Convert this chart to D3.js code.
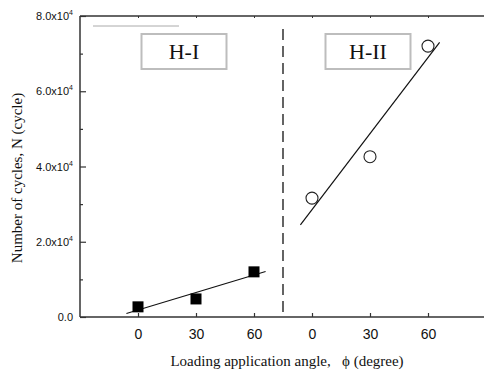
<!DOCTYPE html>
<html>
<head>
<meta charset="utf-8">
<script src="https://cdn.jsdelivr.net/npm/d3@7"></script>
<style>
  html, body { margin: 0; padding: 0; background: #fff; }
  svg { display: block; }
</style>
</head>
<body>
<svg id="chart" width="484" height="374"></svg>
<script>
// Loading application angle (degree) for each specimen group
const angles = [0, 30, 60];
const groups = ["H-I", "H-II"];
// Number of cycles N for each group
const cyclesHI = [2700, 4800, 12000];
const cyclesHII = [31600, 42600, 72000];
// Axis ticks
const yMajorTicks = [0, 20000, 40000, 60000, 80000];
const yMinorTicks = [10000, 30000, 50000, 70000];

(function () {
  const svg = d3.select("#chart");
  const W = 484;
  const padL = 80, padT = 16, padB = 317, padR = 486;

  // Each group occupies three slots (0°, 30°, 60°); slot index = group*3 + angle/30
  const x = d3.scaleLinear().domain([-1, 6]).range([padL, padR]);
  const y = d3.scaleLinear().domain([0, 80000]).range([padB, padT]);
  const slot = (g, a) => g * 3 + a / 30;

  const axisColor = "#333";

  // Frame lines
  svg.append("line").attr("x1", padL).attr("x2", padL).attr("y1", padT).attr("y2", padB)
    .attr("stroke", axisColor).attr("stroke-width", 1.5);
  svg.append("line").attr("x1", padL).attr("x2", W).attr("y1", padB).attr("y2", padB)
    .attr("stroke", axisColor).attr("stroke-width", 1.5);
  svg.append("line").attr("x1", padL).attr("x2", W).attr("y1", padT).attr("y2", padT)
    .attr("stroke", axisColor).attr("stroke-width", 1.5);

  // Y axis (ticks pointing inward)
  const yAxis = d3.axisLeft(y).tickValues(yMajorTicks).tickSizeInner(-6).tickSizeOuter(0)
    .tickFormat(() => "");
  const gy = svg.append("g").attr("transform", `translate(${padL},0)`).call(yAxis);
  gy.select(".domain").remove();
  gy.selectAll(".tick line").attr("stroke", axisColor).attr("stroke-width", 1.2);

  // Tick labels like 8.0x10^4
  const yLabels = svg.append("g").attr("font-family", "Liberation Sans, Arial, sans-serif")
    .attr("font-size", 11).attr("fill", "#111");
  yMajorTicks.forEach(v => {
    const t = yLabels.append("text").attr("x", 73).attr("y", y(v) + 4).attr("text-anchor", "end");
    if (v === 0) {
      t.text("0.0");
    } else {
      const mant = (v / 10000).toFixed(1);
      t.append("tspan").text(mant + "x10");
      t.append("tspan").attr("font-size", 7).attr("dy", -5).text("4");
    }
  });

  const gyMinor = svg.append("g").attr("transform", `translate(${padL},0)`)
    .call(d3.axisLeft(y).tickValues(yMinorTicks).tickSizeInner(-3).tickSizeOuter(0).tickFormat(() => ""));
  gyMinor.select(".domain").remove();
  gyMinor.selectAll(".tick line").attr("stroke", axisColor).attr("stroke-width", 1.2);

  // X axis: bottom with labels, top with small ticks
  const slots = [];
  groups.forEach((g, gi) => angles.forEach(a => slots.push({ s: slot(gi, a), a })));
  const xAxis = d3.axisBottom(x).tickValues(slots.map(d => d.s)).tickSizeInner(-4).tickSizeOuter(0)
    .tickPadding(12).tickFormat((d, i) => slots[i].a);
  const gx = svg.append("g").attr("transform", `translate(0,${padB})`).call(xAxis);
  gx.select(".domain").remove();
  gx.selectAll(".tick line").attr("stroke", axisColor).attr("stroke-width", 1.2);
  gx.selectAll(".tick text").attr("font-family", "Liberation Sans, Arial, sans-serif")
    .attr("font-size", 14).attr("fill", "#111");

  const gxTop = svg.append("g").attr("transform", `translate(0,${padT})`)
    .call(d3.axisTop(x).tickValues(slots.map(d => d.s)).tickSizeInner(-2).tickSizeOuter(0).tickFormat(() => ""));
  gxTop.select(".domain").remove();
  gxTop.selectAll(".tick line").attr("stroke", axisColor).attr("stroke-width", 1);

  // Axis titles
  svg.append("text").attr("x", 287).attr("y", 366).attr("text-anchor", "middle")
    .attr("font-family", "Liberation Serif, Times New Roman, serif").attr("font-size", 15).attr("fill", "#111")
    .attr("xml:space", "preserve")
    .text("Loading application angle,   \u03D5 (degree)");
  svg.append("text").attr("transform", "translate(22,178) rotate(-90)").attr("text-anchor", "middle")
    .attr("font-family", "Liberation Serif, Times New Roman, serif").attr("font-size", 15).attr("fill", "#111")
    .text("Number of cycles, N (cycle)");

  // Divider between groups
  svg.append("line").attr("x1", x(2.5)).attr("x2", x(2.5)).attr("y1", 29).attr("y2", 312)
    .attr("stroke", "#111").attr("stroke-width", 1.3).attr("stroke-dasharray", "11,6");

  // Short grey line near the top-left
  svg.append("line").attr("x1", 93).attr("x2", 179).attr("y1", 26).attr("y2", 26)
    .attr("stroke", "#aaa").attr("stroke-width", 1);

  // Group label boxes
  const boxes = [{ label: groups[0], cx: x(1) - 12 }, { label: groups[1], cx: x(4) - 2 }];
  boxes.forEach(b => {
    svg.append("rect").attr("x", b.cx - 42.5).attr("y", 34).attr("width", 85).attr("height", 35)
      .attr("fill", "#fff").attr("stroke", "#bdbdbd").attr("stroke-width", 2);
    svg.append("text").attr("x", b.cx).attr("y", 59).attr("text-anchor", "middle")
      .attr("font-family", "Liberation Serif, Times New Roman, serif").attr("font-size", 22).attr("fill", "#111")
      .text(b.label);
  });

  // Least-squares fit lines for each group, drawn from -6° to 66°
  function fit(vals) {
    const mx = d3.mean(angles), my = d3.mean(vals);
    const sxy = d3.sum(angles.map((a, i) => (a - mx) * (vals[i] - my)));
    const sxx = d3.sum(angles.map(a => (a - mx) ** 2));
    const b = sxy / sxx;
    return { b, a: my - b * mx };
  }
  [cyclesHI, cyclesHII].forEach((vals, gi) => {
    const f = fit(vals);
    const a0 = -6, a1 = 66;
    svg.append("line")
      .attr("x1", x(slot(gi, a0))).attr("y1", y(f.a + f.b * a0))
      .attr("x2", x(slot(gi, a1))).attr("y2", y(f.a + f.b * a1))
      .attr("stroke", "#111").attr("stroke-width", 1.2);
  });

  // H-I: filled squares
  svg.append("g").selectAll("rect").data(cyclesHI).join("rect")
    .attr("x", (d, i) => x(slot(0, angles[i])) - 5.5)
    .attr("y", d => y(d) - 5.5)
    .attr("width", 11).attr("height", 11).attr("fill", "#000");

  // H-II: open circles
  svg.append("g").selectAll("circle").data(cyclesHII).join("circle")
    .attr("cx", (d, i) => x(slot(1, angles[i])))
    .attr("cy", d => y(d))
    .attr("r", 6).attr("fill", "none").attr("stroke", "#222").attr("stroke-width", 1.1);
})();
</script>
</body>
</html>
